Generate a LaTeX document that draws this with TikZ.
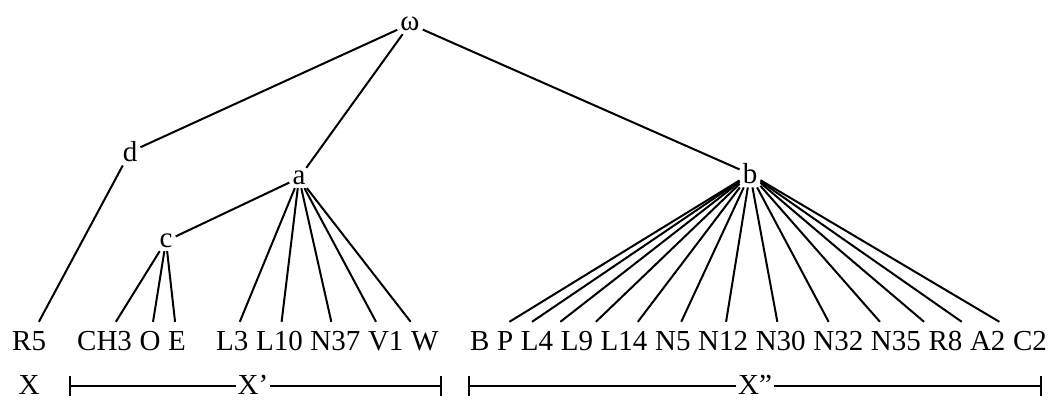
\documentclass[tikz,border=0pt]{standalone}
\usepackage{fontspec}
\setmainfont{Liberation Serif}
\usetikzlibrary{arrows.meta}
\def\wsp{-52.75pt}% word space (7.25pt) minus 2 x inner xsep (30pt)
\begin{document}
\begin{tikzpicture}[x=1pt,y=-1pt,
  treenode/.style={inner sep=3pt, font=\fontsize{29}{34}\selectfont},
  leafnode/.style={inner xsep=30pt, inner ysep=8pt, text height=20pt, text depth=0pt,
    anchor=base west, font=\fontsize{29}{34}\selectfont},
  barlabel/.style={inner xsep=1.5pt, inner ysep=0pt, anchor=base, font=\fontsize{29}{34}\selectfont},
  edge/.style={line width=2pt},
  bar/.style={line width=2pt}]
\useasboundingbox (0,0) rectangle (1053,401);

% inner nodes
\node[treenode] (w) at (410,24) {ω};
\node[treenode] (d) at (130,152) {d};
\node[treenode] (a) at (299,178) {a};
\node[treenode] (c) at (166,241) {c};
\node[treenode] (b) at (750,174) {b};

% leaves
\node[leafnode] (R5) at (-18,350) {R5};

\node[leafnode] (CH3) at (47,350) {CH3};
\node[leafnode] (O) at ([xshift=\wsp]CH3.base east) {O};
\node[leafnode] (E) at ([xshift=\wsp]O.base east) {E};

\node[leafnode] (L3) at (186,350) {L3};
\node[leafnode] (L10) at ([xshift=\wsp]L3.base east) {L10};
\node[leafnode] (N37) at ([xshift=\wsp]L10.base east) {N37};
\node[leafnode] (V1) at ([xshift=\wsp]N37.base east) {V1};
\node[leafnode] (W) at ([xshift=\wsp]V1.base east) {W};

\node[leafnode] (B) at (440,350) {B};
\node[leafnode] (P) at ([xshift=\wsp]B.base east) {P};
\node[leafnode] (L4) at ([xshift=\wsp]P.base east) {L4};
\node[leafnode] (L9) at ([xshift=\wsp]L4.base east) {L9};
\node[leafnode] (L14) at ([xshift=\wsp]L9.base east) {L14};
\node[leafnode] (N5) at ([xshift=\wsp]L14.base east) {N5};
\node[leafnode] (N12) at ([xshift=\wsp]N5.base east) {N12};
\node[leafnode] (N30) at ([xshift=\wsp]N12.base east) {N30};
\node[leafnode] (N32) at ([xshift=\wsp]N30.base east) {N32};
\node[leafnode] (N35) at ([xshift=\wsp]N32.base east) {N35};
\node[leafnode] (R8) at ([xshift=\wsp]N35.base east) {R8};
\node[leafnode] (A2) at ([xshift=\wsp]R8.base east) {A2};
\node[leafnode] (C2) at ([xshift=\wsp]A2.base east) {C2};

% edges
\draw[edge] (w) -- (d);
\draw[edge] (w) -- (a);
\draw[edge] (w) -- (b);
\draw[edge] (d) -- (R5);
\draw[edge] (a) -- (c);
\foreach \n in {CH3,O,E} \draw[edge] (c) -- (\n);
\foreach \n in {L3,L10,N37,V1,W} \draw[edge] (a) -- (\n);
\foreach \n in {B,P,L4,L9,L14,N5,N12,N30,N32,N35,R8,A2,C2} \draw[edge] (b) -- (\n);

% bottom ranges
\node[barlabel] (X) at (29,394) {X};
\node[barlabel] (Xp) at (253,394) {X’};
\node[barlabel] (Xpp) at (755,394) {X”};
\coordinate (xpl) at (69,386);
\coordinate (xpr) at (442,386);
\coordinate (xppl) at (468,386);
\coordinate (xppr) at (1042,386);
\draw[bar, {Bar[width=20pt]}-] (xpl) -- (xpl -| Xp.west);
\draw[bar, -{Bar[width=20pt]}] (xpr -| Xp.east) -- (xpr);
\draw[bar, {Bar[width=20pt]}-] (xppl) -- (xppl -| Xpp.west);
\draw[bar, -{Bar[width=20pt]}] (xppr -| Xpp.east) -- (xppr);
\end{tikzpicture}
\end{document}
